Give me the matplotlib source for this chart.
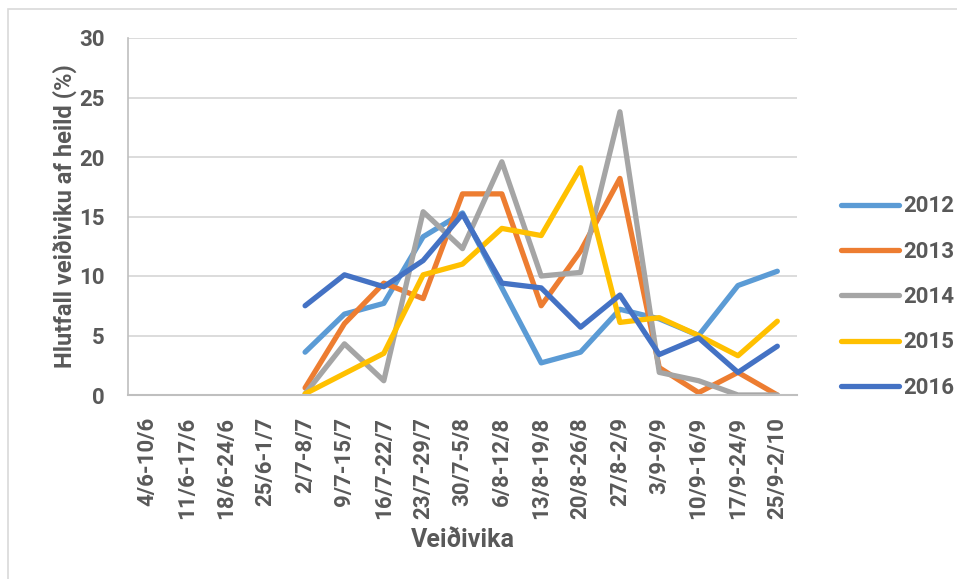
import numpy as np
import matplotlib.pyplot as plt
from matplotlib.patches import Rectangle

# weekly categories (veiðivika)
weeks = ['4/6-10/6', '11/6-17/6', '18/6-24/6', '25/6-1/7', '2/7-8/7', '9/7-15/7',
         '16/7-22/7', '23/7-29/7', '30/7-5/8', '6/8-12/8', '13/8-19/8', '20/8-26/8',
         '27/8-2/9', '3/9-9/9', '10/9-16/9', '17/9-24/9', '25/9-2/10']

nan = np.nan
y2012 = [nan, nan, nan, nan, 3.6, 6.8, 7.7, 13.3, 15.3, 9.0, 2.7, 3.6, 7.2, 6.4, 5.0, 9.2, 10.4]
y2013 = [nan, nan, nan, nan, 0.6, 6.0, 9.4, 8.1, 16.9, 16.9, 7.5, 12.1, 18.2, 2.3, 0.2, 1.9, 0.0]
y2014 = [nan, nan, nan, nan, 0.1, 4.3, 1.2, 15.4, 12.3, 19.6, 10.0, 10.3, 23.8, 1.9, 1.2, 0.0, 0.0]
y2015 = [nan, nan, nan, nan, 0.1, 1.8, 3.5, 10.1, 11.0, 14.0, 13.4, 19.1, 6.1, 6.5, 5.0, 3.3, 6.2]
y2016 = [nan, nan, nan, nan, 7.5, 10.1, 9.1, 11.3, 15.2, 9.4, 9.0, 5.7, 8.4, 3.4, 4.8, 1.9, 4.1]

series = [('2012', y2012, '#5B9BD5'), ('2013', y2013, '#ED7D31'), ('2014', y2014, '#A5A5A5'),
          ('2015', y2015, '#FFC000'), ('2016', y2016, '#4472C4')]

txt = '#595959'
plt.rcParams['font.family'] = ['Roboto', 'DejaVu Sans']
plt.rcParams['font.weight'] = 'bold'

fig = plt.figure(figsize=(9.57, 5.79), dpi=100)
ax = fig.add_axes([128/957, 1-395/579, (797-128)/957, (395-38)/579])

x = np.arange(len(weeks))
for name, vals, col in series:
    ax.plot(x, vals, color=col, lw=3.8, label=name,
            solid_capstyle='round', solid_joinstyle='round')

ax.set_xlim(-0.5, len(weeks) - 0.5)
ax.set_ylim(0, 30)
ax.set_yticks(range(0, 31, 5))
ax.set_xticks(x)
ax.set_xticklabels(weeks, rotation=90, fontsize=16, color=txt, fontweight='bold')
for lab in ax.get_yticklabels():
    lab.set_fontsize(16)
    lab.set_color(txt)
    lab.set_fontweight('bold')
ax.tick_params(length=0, axis='y', pad=17)
ax.tick_params(length=0, axis='x', pad=16)

ax.grid(axis='y', color='#D9D9D9', lw=1.3)
ax.set_axisbelow(True)
for s in ['top', 'right']:
    ax.spines[s].set_visible(False)
ax.spines['bottom'].set_color('#BFBFBF')
ax.spines['bottom'].set_linewidth(1.5)
ax.spines['left'].set_color('#BFBFBF')
ax.spines['left'].set_linewidth(1.2)

ax.set_xlabel('Veiðivika', fontsize=18, color=txt, fontweight='bold', labelpad=6)
ax.set_ylabel('Hlutfall veiðiviku af heild (%)', fontsize=17, color=txt, fontweight='bold', labelpad=1)

leg = fig.legend(loc='center left', bbox_to_anchor=(830/957, 1-297/579), frameon=False,
                 fontsize=16, handlelength=2.6, handletextpad=0.2, labelspacing=1.05,
                 borderpad=0)
for t in leg.get_texts():
    t.set_color(txt)
    t.set_fontweight('bold')

# outer chart border
fig.patches.append(Rectangle((8/957, -0.1), 1.2, 1 - 9/579 + 0.1, transform=fig.transFigure,
                             fill=False, edgecolor='#D9D9D9', lw=1.2))

fig.savefig('out.png', dpi=100)
